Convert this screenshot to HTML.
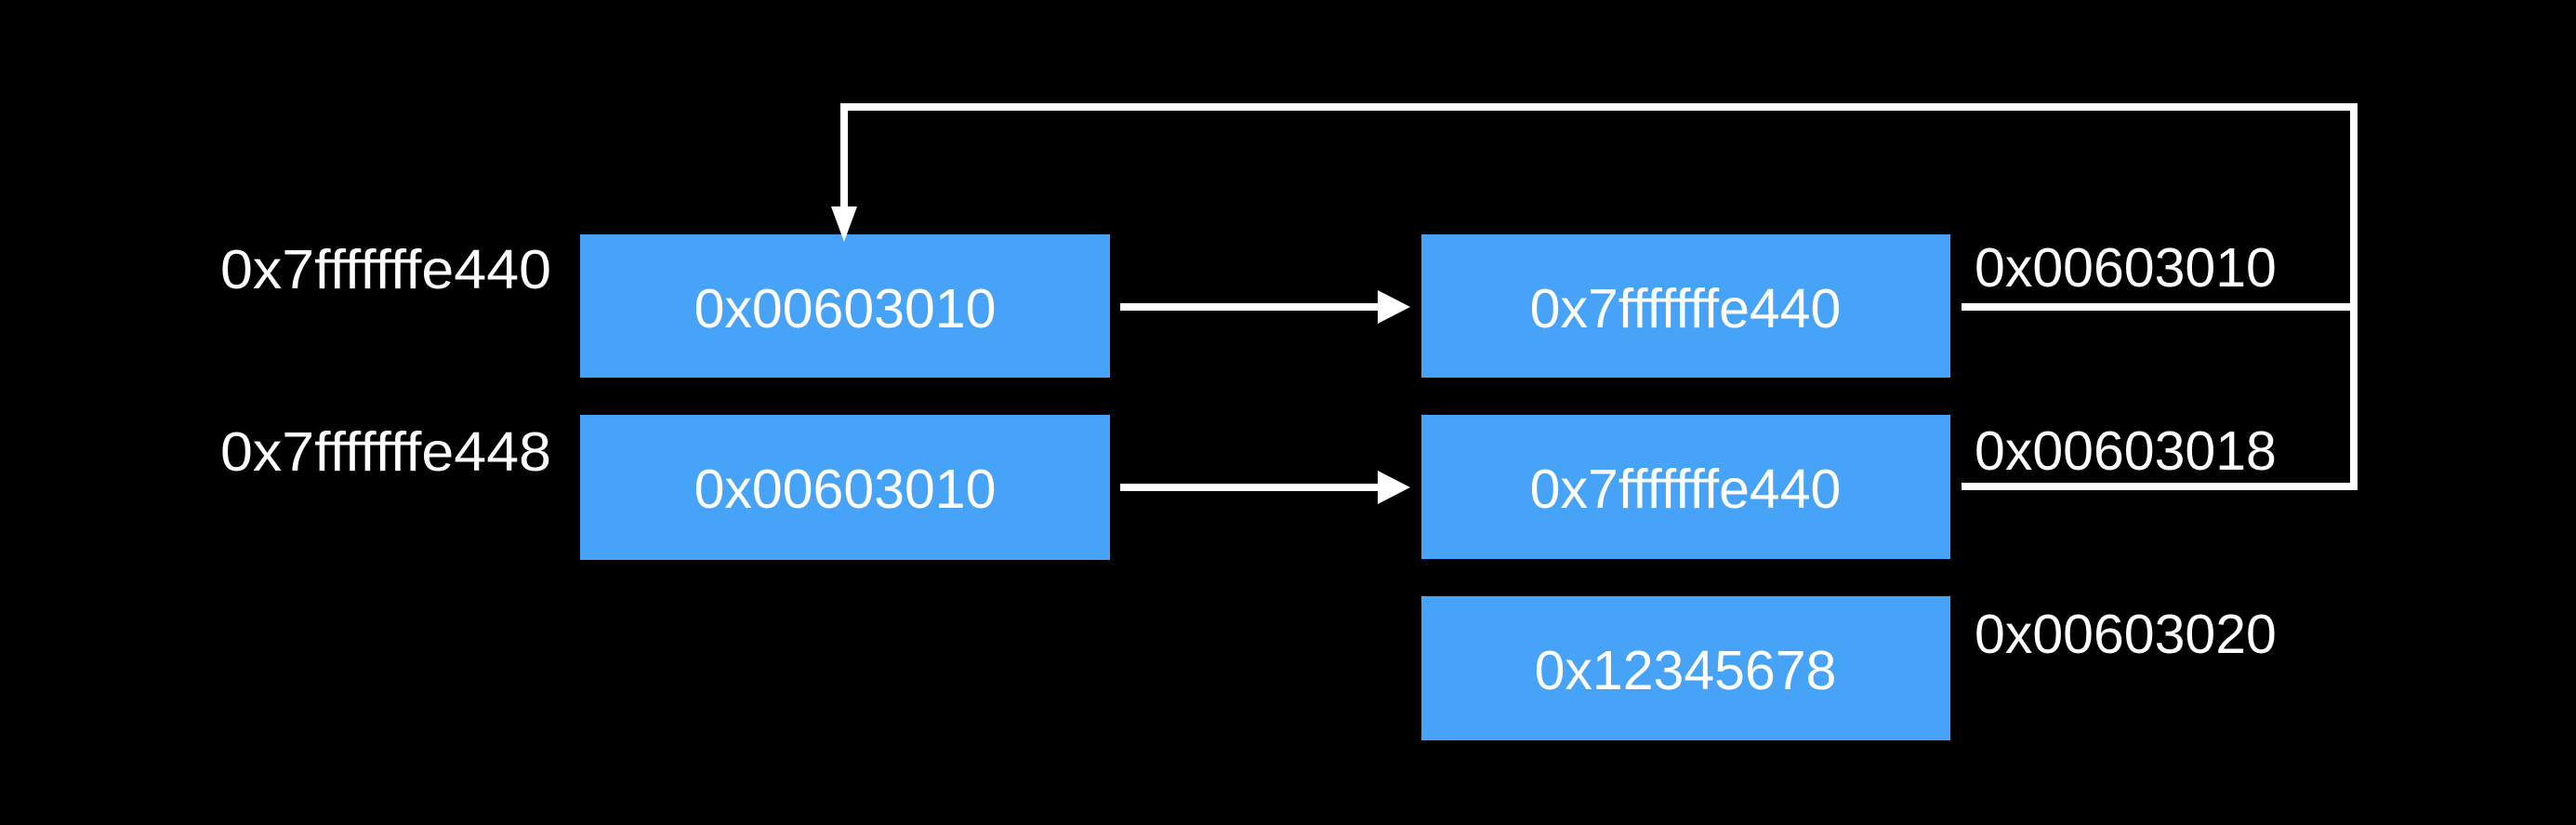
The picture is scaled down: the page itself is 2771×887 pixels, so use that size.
<!DOCTYPE html>
<html><head><meta charset="utf-8"><style>
html,body{margin:0;padding:0;background:#000;}
body{width:2771px;height:882px;overflow:hidden;}
text{font-family:"Liberation Sans",Arial,sans-serif;fill:#fff;font-size:59px;}
</style></head><body>
<svg width="2771" height="882" viewBox="0 0 2771 882" xmlns="http://www.w3.org/2000/svg">
<rect width="2771" height="882" fill="#000"/>
<g fill="#47a3f8">
<rect x="624" y="252" width="570" height="154"/>
<rect x="624" y="446" width="570" height="156"/>
<rect x="1529" y="252" width="569" height="154"/>
<rect x="1529" y="446" width="569" height="155"/>
<rect x="1529" y="641" width="569" height="155"/>
</g>
<text x="237" y="310" textLength="356" lengthAdjust="spacingAndGlyphs">0x7fffffffe440</text>
<text x="237" y="506" textLength="356" lengthAdjust="spacingAndGlyphs">0x7fffffffe448</text>
<text x="909" y="352" text-anchor="middle">0x00603010</text>
<text x="909" y="546" text-anchor="middle">0x00603010</text>
<text x="1813" y="352" text-anchor="middle">0x7fffffffe440</text>
<text x="1813" y="546" text-anchor="middle">0x7fffffffe440</text>
<text x="1813" y="741" text-anchor="middle">0x12345678</text>
<text x="2124" y="308">0x00603010</text>
<text x="2124" y="505">0x00603018</text>
<text x="2124" y="702">0x00603020</text>
<g stroke="#fff" stroke-width="8" fill="none">
<polyline points="2110,330 2532,330"/>
<polyline points="2110,523 2532,523 2532,115 908,115 908,228"/>
<line x1="1205" y1="330" x2="1486" y2="330"/>
<line x1="1205" y1="524" x2="1486" y2="524"/>
</g>
<g fill="#fff">
<polygon points="1482,312 1517,330 1482,348"/>
<polygon points="1482,506 1517,524 1482,542"/>
<polygon points="894,222 922,222 908,260"/>
</g>
</svg>
</body></html>
